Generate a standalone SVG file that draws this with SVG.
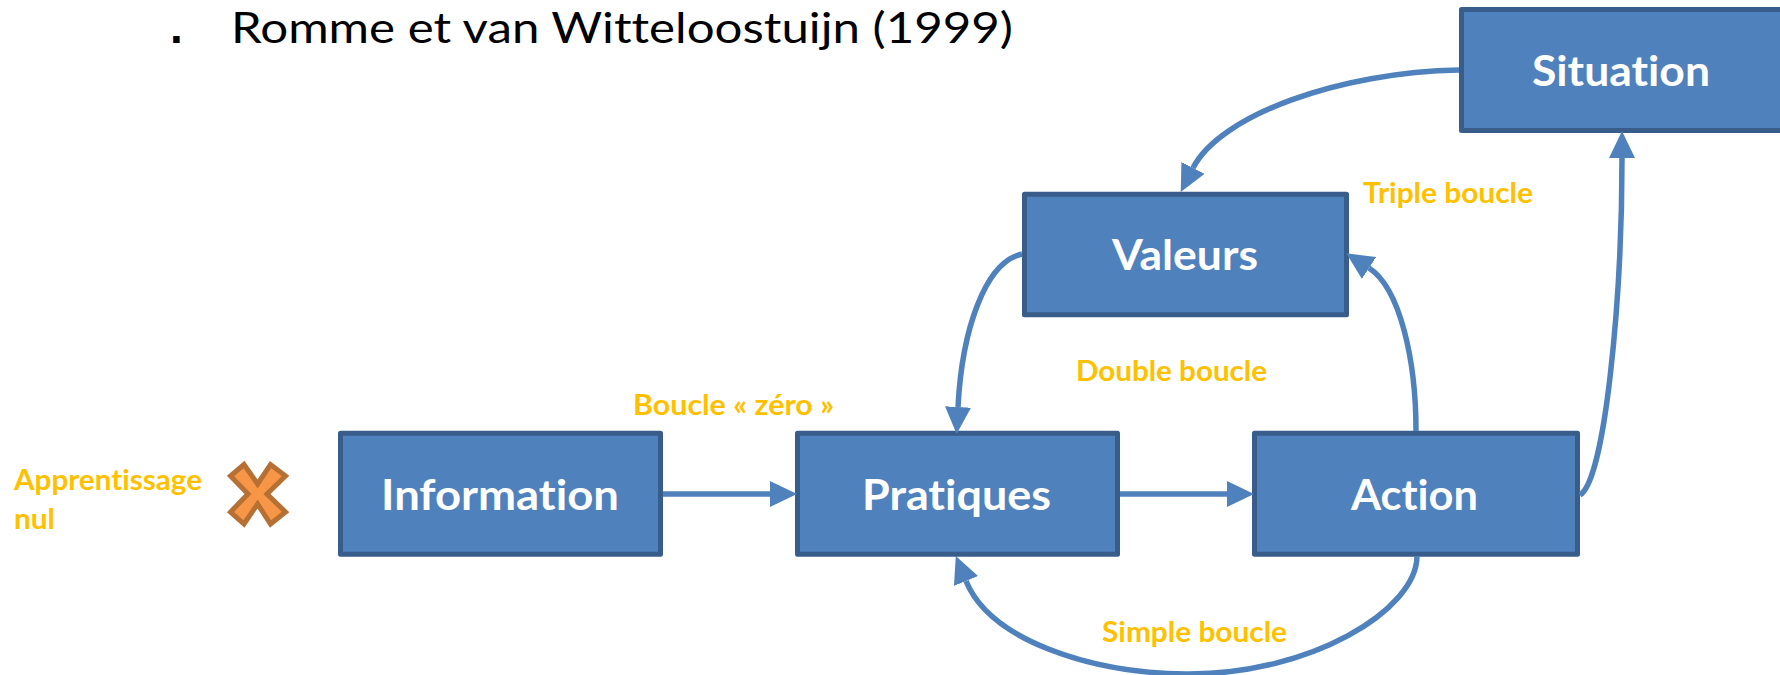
<svg xmlns="http://www.w3.org/2000/svg" width="1780" height="675" viewBox="0 0 1780 675">
<style>
text{font-family:Lato,"Noto Sans","Liberation Sans",sans-serif;font-variant-ligatures:none}
.box{fill:#4F81BD;stroke:#385D8A;stroke-width:5;stroke-linejoin:round}
.lbl{fill:#fff;font-size:42px;font-weight:700}
.note{fill:#FFC000;font-size:28px;font-weight:700}
.title{fill:#000;font-size:43px}
.con{fill:none;stroke:#4F81BD;stroke-width:5.5;marker-end:url(#arrow)}
</style>
<defs>
<marker id="arrow" markerUnits="userSpaceOnUse" markerWidth="28" markerHeight="26" refX="0" refY="13" orient="auto" viewBox="0 0 28 26">
<path d="M0 0L27 13L0 26Z" fill="#4F81BD"/>
</marker>
</defs>
<rect width="1780" height="675" fill="#fff"/>
<g id="title">
<text x="170" y="43" fill="#000" font-weight="700" font-size="46" style="font-family:'Liberation Sans',sans-serif">.</text>
<text class="title" x="231" y="42.5" textLength="782" lengthAdjust="spacingAndGlyphs">Romme et van Witteloostuijn (1999)</text>
</g>
<g id="node-situation"><rect class="box" x="1461.5" y="9.5" width="323" height="121"/><text class="lbl" x="1532" y="86" textLength="178" lengthAdjust="spacingAndGlyphs">Situation</text></g>
<g id="node-valeurs"><rect class="box" x="1024.5" y="194.2" width="322" height="120.6"/><text class="lbl" x="1112" y="270" textLength="146" lengthAdjust="spacingAndGlyphs">Valeurs</text></g>
<g id="node-information"><rect class="box" x="340.5" y="433.3" width="320" height="121"/><text class="lbl" x="381" y="509.5" textLength="238" lengthAdjust="spacingAndGlyphs">Information</text></g>
<g id="node-pratiques"><rect class="box" x="797.5" y="433.3" width="320" height="121"/><text class="lbl" x="862" y="509.5" textLength="189" lengthAdjust="spacingAndGlyphs">Pratiques</text></g>
<g id="node-action"><rect class="box" x="1254.5" y="433.3" width="323" height="121"/><text class="lbl" x="1351" y="509.5" textLength="127" lengthAdjust="spacingAndGlyphs">Action</text></g>
<g id="node-cross"><polygon points="244,464.5 257.6,484 270.5,464.5 285.5,476 267,494 285.5,512 270.5,524 257.6,504 244,524 230.5,512 248,494 230.5,476" fill="#F79646" stroke="#B77033" stroke-width="5"/></g>
<g id="connectors">
<path class="con" d="M663 494H770"/>
<path class="con" d="M1120 494H1227"/>
<path class="con" d="M1459 70C1340 72 1220 115 1193 168"/>
<path class="con" d="M1580 495C1605 480 1622 300 1622 158"/>
<path class="con" d="M1416 431C1416 360 1400 288 1369 268"/>
<path class="con" d="M1022 254C985 262 962 330 958 407"/>
<path class="con" d="M1417 556C1417 610 1310 675 1186 674C1090 673 990 640 966 581"/>
</g>
<g id="labels">
<text class="note" x="14" y="490" textLength="188" lengthAdjust="spacingAndGlyphs">Apprentissage</text>
<text class="note" x="14" y="529" textLength="41" lengthAdjust="spacingAndGlyphs">nul</text>
<text class="note" x="633" y="415" textLength="201" lengthAdjust="spacingAndGlyphs">Boucle « zéro »</text>
<text class="note" x="1076" y="381" textLength="191" lengthAdjust="spacingAndGlyphs">Double boucle</text>
<text class="note" x="1363" y="203" textLength="170" lengthAdjust="spacingAndGlyphs">Triple boucle</text>
<text class="note" x="1102" y="642" textLength="185" lengthAdjust="spacingAndGlyphs">Simple boucle</text>
</g>
</svg>
